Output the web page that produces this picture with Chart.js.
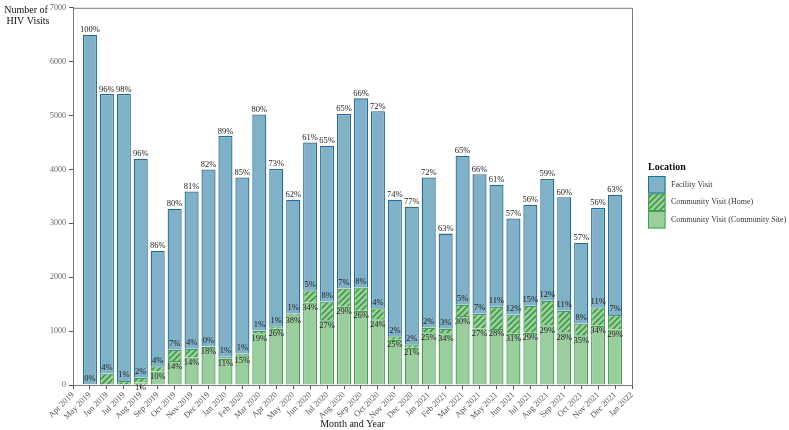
<!DOCTYPE html>
<html>
<head>
<meta charset="utf-8">
<script src="https://cdn.jsdelivr.net/npm/chart.js@4/dist/chart.umd.min.js"></script>
<style>
html,body{margin:0;padding:0;background:#fff;}
#c{display:block;}
</style>
</head>
<body>
<canvas id="c" width="789" height="430"></canvas>
<script>
// Axis tick labels (month positions), bars occupy May 2019 .. Dec 2021
const tickLabels = ['Apr 2019','May 2019','Jun 2019','Jul 2019','Aug 2019','Sep 2019','Oct 2019','Nov 2019','Dec 2019',
  'Jan 2020','Feb 2020','Mar 2020','Apr 2020','May 2020','Jun 2020','Jul 2020','Aug 2020','Sep 2020','Oct 2020','Nov 2020','Dec 2020',
  'Jan 2021','Feb 2021','Mar 2021','Apr 2021','May 2021','Jun 2021','Jul 2021','Aug 2021','Sep 2021','Oct 2021','Nov 2021','Dec 2021',
  'Jan 2022'];
const barMonths = tickLabels.slice(1, 33);

const facilityVisits = [6485,5185,5325,4065,2140,2615,2915,3280,4095,3265,4010,2920,2115,2740,2890,3240,
  3510,3655,2535,2555,2785,1765,2765,2590,2265,1780,1875,2260,2105,1500,1840,2230];
const homeVisits = [15,215,75,90,100,210,165,10,35,35,50,45,30,230,350,340,
  430,205,65,65,85,85,210,270,410,360,500,455,400,215,345,270];
const siteVisits = [0,0,0,45,250,445,510,710,490,550,960,1045,1295,1530,1200,1450,
  1380,1220,840,690,980,960,1280,1050,1040,950,970,1110,980,925,1100,1030];

const facilityPct = ['100%','96%','98%','96%','86%','80%','81%','82%','89%','85%','80%','73%','62%','61%','65%','65%',
  '66%','72%','74%','77%','72%','63%','65%','66%','61%','57%','56%','59%','60%','57%','56%','63%'];
const homePct = ['0%','4%','1%','2%','4%','7%','4%','0%','1%','1%','1%','1%','1%','5%','8%','7%',
  '8%','4%','2%','2%','2%','3%','5%','7%','11%','12%','15%','12%','11%','8%','11%','7%'];
const sitePct = [null,null,null,'1%','10%','14%','14%','18%','11%','15%','19%','26%','38%','34%','27%','29%',
  '26%','24%','25%','21%','25%','34%','30%','27%','28%','31%','29%','29%','28%','35%','34%','29%'];

const seriesNames = ['Facility Visit','Community Visit (Home)','Community Visit (Community Site)'];

const pad = arr => [null, ...arr, null];

const BLUE_FILL = '#80b1c7', BLUE_LINE = '#1f6e96';
const GREEN_FILL = '#9bcd9e', GREEN_LINE = '#43a04f', HATCH_LINE = '#36963f';
const SERIF = '"Liberation Serif", "DejaVu Serif", serif';

function makeHatch() {
  const s = 6;
  const cv = document.createElement('canvas');
  cv.width = s; cv.height = s;
  const g = cv.getContext('2d');
  g.fillStyle = GREEN_FILL; g.fillRect(0,0,s,s);
  g.strokeStyle = HATCH_LINE; g.lineWidth = 1.5;
  g.beginPath();
  g.moveTo(0,s); g.lineTo(s,0);
  g.moveTo(-s/2,s/2); g.lineTo(s/2,-s/2);
  g.moveTo(s/2,s*1.5); g.lineTo(s*1.5,s/2);
  g.stroke();
  return document.getElementById('c').getContext('2d').createPattern(cv,'repeat');
}
const hatch = makeHatch();

const bgPlugin = {
  id: 'bg',
  beforeDraw(chart) {
    const c = chart.ctx; c.save(); c.fillStyle = '#fff';
    c.fillRect(0,0,chart.width,chart.height); c.restore();
  }
};

const decoPlugin = {
  id: 'deco',
  afterDatasetsDraw(chart) {
    const c = chart.ctx;
    const a = chart.chartArea;
    c.save();
    // frame top and right
    c.strokeStyle = '#7a7a7a'; c.lineWidth = 1;
    c.beginPath();
    c.moveTo(a.left, a.top + 0.5); c.lineTo(a.right + 0.5, a.top + 0.5); c.lineTo(a.right + 0.5, a.bottom);
    c.stroke();
    // percent labels
    const mF = chart.getDatasetMeta(0), mH = chart.getDatasetMeta(1), mS = chart.getDatasetMeta(2);
    c.font = '8.5px ' + SERIF;
    c.fillStyle = '#222';
    c.textAlign = 'center';
    for (let i = 0; i < barMonths.length; i++) {
      const k = i + 1;
      const bf = mF.data[k], bh = mH.data[k], bs = mS.data[k];
      c.textBaseline = 'bottom';
      c.fillText(facilityPct[i], bf.x, bf.y - 0.5);
      c.fillText(homePct[i], bh.x, bh.y - 1.5);
      if (sitePct[i] !== null) {
        c.textBaseline = 'top';
        c.fillText(sitePct[i], bs.x, bs.y + 1);
      }
    }
    c.restore();
  },
  afterDraw(chart) {
    const c = chart.ctx;
    c.save();
    // y-axis title (horizontal, two lines)
    c.fillStyle = '#111';
    c.font = '10px ' + SERIF;
    c.textAlign = 'center';
    c.textBaseline = 'alphabetic';
    c.fillText('Number of', 26, 13);
    c.fillText('HIV Visits', 28, 24);
    // legend
    const lx = 648, ly = 176, sw = 17.5, sh = 17.5;
    c.font = 'bold 10px ' + SERIF;
    c.textAlign = 'left';
    c.textBaseline = 'middle';
    c.fillText('Location', lx, 167);
    const fills = [BLUE_FILL, hatch, GREEN_FILL];
    const lines = [BLUE_LINE, GREEN_LINE, GREEN_LINE];
    for (let j = 0; j < 3; j++) {
      const y = ly + j * sh;
      c.fillStyle = fills[j];
      c.fillRect(lx, y, sw, sh);
      c.strokeStyle = lines[j]; c.lineWidth = 1;
      c.strokeRect(lx + 0.5, y + 0.5, sw - 1, sh - 1);
      c.fillStyle = '#333';
      c.font = '8px ' + SERIF;
      c.fillText(seriesNames[j], 671, y + sh / 2);
    }
    c.restore();
  }
};

new Chart(document.getElementById('c'), {
  type: 'bar',
  data: {
    labels: tickLabels,
    datasets: [
      { label: seriesNames[0], data: pad(facilityVisits), backgroundColor: BLUE_FILL, borderColor: BLUE_LINE, borderWidth: 1.3, stack: 's', order: 3 },
      { label: seriesNames[1], data: pad(homeVisits), backgroundColor: hatch, borderColor: GREEN_LINE, borderWidth: 1.3, stack: 's', order: 2 },
      { label: seriesNames[2], data: pad(siteVisits), backgroundColor: GREEN_FILL, borderColor: GREEN_LINE, borderWidth: 1.3, stack: 's', order: 1 }
    ]
  },
  options: {
    responsive: false,
    animation: false,
    devicePixelRatio: 1,
    datasets: { bar: { barPercentage: 0.83, categoryPercentage: 1.0 } },
    layout: { padding: { left: 0, top: 5, right: 157, bottom: 0 } },
    plugins: { legend: { display: false }, tooltip: { enabled: false }, title: { display: false } },
    scales: {
      x: {
        stacked: true,
        offset: false,
        grid: { display: true, drawOnChartArea: false, drawTicks: true, tickLength: 4, color: '#555', offset: false },
        border: { display: true, color: '#7a7a7a', width: 1 },
        ticks: { autoSkip: false, maxRotation: 45, minRotation: 45, color: '#555', padding: 1,
                 font: { family: SERIF, size: 8.5 } },
        title: { display: true, text: 'Month and Year', color: '#111', font: { family: SERIF, size: 10 }, padding: { top: 0, bottom: 0 } },
        afterFit(scale) { scale.height = 45; }
      },
      y: {
        stacked: true,
        min: 0, max: 7000,
        grid: { display: true, drawOnChartArea: false, drawTicks: true, tickLength: 4, color: '#555' },
        border: { display: true, color: '#7a7a7a', width: 1 },
        ticks: { stepSize: 1000, color: '#666', padding: 3, font: { family: SERIF, size: 8 },
                 callback: v => String(v) },
        afterFit(scale) { scale.width = 73; }
      }
    }
  },
  plugins: [bgPlugin, decoPlugin]
});
</script>
</body>
</html>
